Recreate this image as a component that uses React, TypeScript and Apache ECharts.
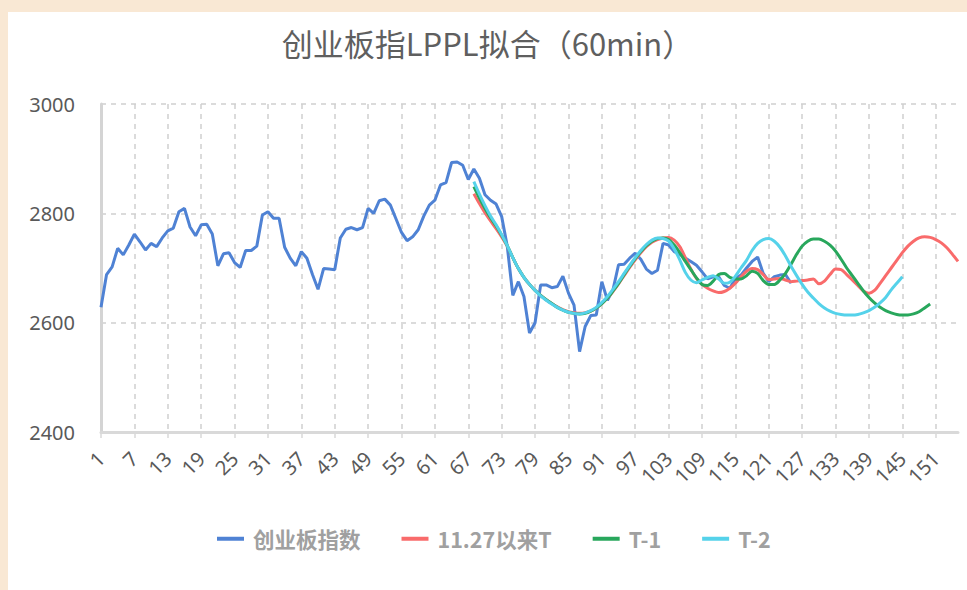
import React, { useEffect, useRef } from "react";
import * as echarts from "echarts";

const TITLE = "创业板指LPPL拟合（60min）";
const CATEGORY_COUNT = 155;
const categories: string[] = Array.from({ length: CATEGORY_COUNT }, (_, i) => String(i + 1));

const seriesNames = ["创业板指数", "11.27以来T", "T-1", "T-2"];
const seriesColors = ["#4f82d4", "#f96b6b", "#28a75c", "#55d2ea"];

// 创业板指数, categories 1..125
const indexStart = 1;
const indexValues = [
  2628, 2688, 2702, 2736, 2724, 2742, 2762, 2748, 2733, 2745,
  2739, 2755, 2768, 2773, 2803, 2809, 2775, 2759, 2779, 2780,
  2762, 2704, 2726, 2728, 2710, 2701, 2732, 2732, 2740, 2797,
  2803, 2791, 2791, 2738, 2718, 2704, 2730, 2718, 2688, 2661,
  2699, 2698, 2697, 2755, 2771, 2774, 2770, 2774, 2809, 2800,
  2823, 2826, 2815, 2790, 2765, 2750, 2757, 2770, 2795, 2815,
  2824, 2852, 2856, 2893, 2894, 2888, 2862, 2881, 2864, 2834,
  2824, 2817, 2794, 2740, 2650, 2675, 2648, 2581, 2600, 2669,
  2669, 2664, 2666, 2685, 2654, 2632, 2547, 2593, 2613, 2614,
  2675, 2641, 2660, 2706, 2707, 2718, 2727, 2716, 2698, 2690,
  2696, 2745, 2742, 2730, 2725, 2718, 2712, 2705, 2693, 2680,
  2684, 2684, 2668, 2663, 2681, 2687, 2700, 2712, 2720, 2690,
  2675, 2684, 2687, 2688, 2672,
];

// 11.27以来T, categories 68..155
const fitSinceStart = 68;
const fitSinceValues = [
  2836, 2818, 2801, 2786, 2772, 2757, 2740, 2719, 2699, 2683,
  2670, 2659, 2650, 2642, 2635, 2629, 2624, 2620, 2618, 2617,
  2618, 2621, 2627, 2635, 2645, 2657, 2671, 2686, 2701, 2715,
  2728, 2739, 2747, 2752, 2755, 2756, 2751, 2739, 2719, 2698,
  2681, 2670, 2663, 2658, 2655, 2657, 2663, 2672, 2684, 2694,
  2699, 2697, 2688, 2679, 2680, 2681, 2678, 2675, 2676, 2677,
  2678, 2680, 2671, 2676, 2688, 2698, 2697, 2688, 2678, 2668,
  2658, 2654, 2659, 2672, 2686, 2700, 2714, 2728, 2740, 2749,
  2755, 2757, 2756, 2752, 2746, 2737, 2725, 2712,
];

// T-1, categories 68..150
const fitT1Start = 68;
const fitT1Values = [
  2849, 2828, 2809, 2792, 2777, 2760, 2741, 2719, 2699, 2683,
  2670, 2659, 2650, 2642, 2635, 2628, 2623, 2619, 2617, 2616,
  2617, 2621, 2627, 2635, 2645, 2658, 2672, 2688, 2703, 2717,
  2730, 2741, 2749, 2754, 2755, 2752, 2742, 2728, 2712, 2697,
  2682, 2670, 2668, 2676, 2688, 2690, 2683, 2680, 2680, 2686,
  2694, 2690, 2677, 2670, 2670, 2678, 2690, 2707, 2725, 2740,
  2749, 2753, 2753, 2749, 2742, 2731, 2716, 2700, 2686, 2672,
  2658, 2646, 2636, 2628, 2622, 2618, 2615, 2614, 2614, 2616,
  2620, 2627, 2634,
];

// T-2, categories 68..145
const fitT2Start = 68;
const fitT2Values = [
  2858, 2835, 2814, 2795, 2779, 2761, 2741, 2719, 2699, 2683,
  2670, 2659, 2649, 2641, 2634, 2628, 2623, 2619, 2617, 2616,
  2618, 2622, 2628, 2637, 2648, 2661, 2675, 2690, 2705, 2719,
  2732, 2743, 2751, 2755, 2754, 2749, 2735, 2715, 2692, 2678,
  2673, 2678, 2683, 2686, 2680, 2672, 2674, 2685, 2700, 2714,
  2732, 2745, 2752, 2754, 2749, 2738, 2722, 2703, 2686, 2670,
  2656, 2645, 2635, 2627, 2621, 2617, 2615, 2614, 2614, 2615,
  2618, 2622, 2628, 2636, 2646, 2660, 2672, 2684,
];

const yTicks = { min: 2400, max: 3000, interval: 200 };

function pad(start: number, values: number[]): (number | null)[] {
  const out: (number | null)[] = new Array(CATEGORY_COUNT).fill(null);
  values.forEach((v, i) => {
    const idx = start - 1 + i;
    if (idx < CATEGORY_COUNT) out[idx] = v;
  });
  return out;
}

export default function App() {
  const ref = useRef<HTMLDivElement>(null);

  useEffect(() => {
    document.body.style.margin = "0";
    if (!ref.current) return;
    const chart = echarts.init(ref.current, null, { renderer: "svg" });
    const dataSets = [
      pad(indexStart, indexValues),
      pad(fitSinceStart, fitSinceValues),
      pad(fitT1Start, fitT1Values),
      pad(fitT2Start, fitT2Values),
    ];
    const gridColor = "#d0d0d0";
    chart.setOption({
      animation: false,
      backgroundColor: "#ffffff",
      title: {
        text: TITLE,
        left: "center",
        top: 10,
        textStyle: {
          fontSize: 31,
          fontWeight: "normal",
          color: "#5f5f5f",
          fontFamily: "'Noto Sans CJK SC', 'Noto Sans', sans-serif",
        },
      },
      legend: {
        data: seriesNames,
        left: 204,
        top: 511,
        icon: "rect",
        itemWidth: 27,
        itemHeight: 4,
        itemGap: 41,
        textStyle: {
          fontSize: 21.5,
          fontWeight: "bold",
          color: "#a0a0a0",
          padding: [0, 0, 0, 4],
          fontFamily: "'Noto Sans CJK SC', 'Noto Sans', sans-serif",
        },
      },
      grid: { left: 93, right: 9, top: 92, bottom: 158, containLabel: false },
      xAxis: {
        type: "category",
        data: categories,
        boundaryGap: false,
        axisLine: { show: true, lineStyle: { color: "#d9d9d9", width: 3 } },
        axisTick: {
          show: true,
          interval: 5,
          length: 6,
          lineStyle: { color: "#d9d9d9", width: 1.5 },
        },
        axisLabel: {
          interval: 5,
          rotate: 45,
          margin: 23,
          fontSize: 20,
          color: "#595959",
          fontFamily: "'Noto Sans', sans-serif",
        },
        splitLine: {
          show: true,
          interval: 5,
          lineStyle: { color: gridColor, type: [5, 5], width: 1.5 },
        },
      },
      yAxis: {
        type: "value",
        min: yTicks.min,
        max: yTicks.max,
        interval: yTicks.interval,
        axisLine: { show: true, lineStyle: { color: "#d4d4d4", width: 3 } },
        axisTick: { show: false },
        axisLabel: {
          fontSize: 20,
          margin: 26,
          color: "#595959",
          fontFamily: "'Noto Sans', sans-serif",
          formatter: (v: number) => String(v),
        },
        splitLine: {
          show: true,
          lineStyle: { color: gridColor, type: [5, 5], width: 1.5 },
        },
      },
      series: seriesNames.map((name, i) => ({
        name,
        type: "line",
        data: dataSets[i],
        showSymbol: false,
        symbol: "none",
        smooth: i === 0 ? false : 0.3,
        connectNulls: false,
        lineStyle: { color: seriesColors[i], width: 3 },
        itemStyle: { color: seriesColors[i] },
        z: 2 + i,
      })),
    });
    return () => chart.dispose();
  }, []);

  return (
    <div
      style={{
        position: "fixed",
        left: 0,
        top: 0,
        width: 967,
        height: 590,
        background: "#f9e8d4",
        overflow: "hidden",
      }}
    >
      <div
        ref={ref}
        style={{ position: "absolute", left: 8, top: 12, width: 959, height: 578 }}
      />
    </div>
  );
}
